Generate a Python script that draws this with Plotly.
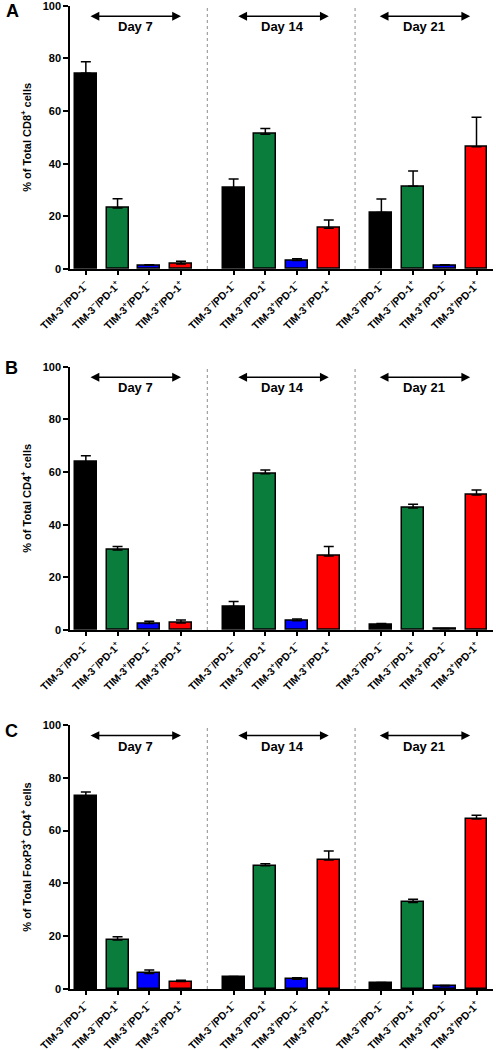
import plotly.graph_objects as go

# ---- data ----
days = ["Day 7", "Day 14", "Day 21"]
subsets = ["TIM-3<sup>\u2212</sup>/PD-1<sup>\u2212</sup>",
           "TIM-3<sup>\u2212</sup>/PD-1<sup>+</sup>",
           "TIM-3<sup>+</sup>/PD-1<sup>\u2212</sup>",
           "TIM-3<sup>+</sup>/PD-1<sup>+</sup>"]
subset_colors = ["#000000", "#0a7d3c", "#0000ff", "#ff0000"]

cd8_mean = [74.3, 23.2, 1.4, 1.9,   30.9, 51.2, 3.2, 15.5,   21.5, 31.4, 1.4, 46.4]
cd8_err  = [4.4, 3.5, 0.2, 1.0,     3.3, 2.2, 0.7, 3.1,      5.1, 5.8, 0.2, 11.2]

cd4_mean = [63.9, 30.4, 2.5, 2.7,   8.9, 59.3, 3.5, 28.1,    2.2, 46.3, 0.5, 51.3]
cd4_err  = [2.3, 1.3, 0.8, 1.1,     1.9, 1.5, 0.7, 3.6,      0.3, 1.5, 0.1, 1.9]

foxp3_mean = [73.1, 18.6, 5.9, 2.8,  4.4, 46.7, 3.7, 48.9,   2.2, 32.8, 1.1, 64.4]
foxp3_err  = [1.5, 1.2, 1.3, 0.5,    0.3, 0.7, 0.6, 3.4,     0.3, 1.2, 0.2, 1.4]

panels = [
    ("A", "% of Total CD8<sup>+</sup> cells", cd8_mean, cd8_err),
    ("B", "% of Total CD4<sup>+</sup> cells", cd4_mean, cd4_err),
    ("C", "% of Total FoxP3<sup>+</sup> CD4<sup>+</sup> cells", foxp3_mean, foxp3_err),
]

# ---- layout geometry ----
W, H = 496, 1050
GROUP_STEP = 4.66
xpos = [g * GROUP_STEP + i for g in range(len(days)) for i in range(len(subsets))]
ticktext = [s for _ in days for s in subsets]
bar_colors = [c for _ in days for c in subset_colors]
separators = [3 + (GROUP_STEP - 3) / 2, GROUP_STEP + 3 + (GROUP_STEP - 3) / 2]
# (top px, bottom px) of each plotting area
panel_px = [(5.7, 269), (366.7, 630), (725, 989)]
letter_px = [(4, 11), (3, 368), (3, 731)]
x_dom = [70 / W, 493 / W]
FONT = "Arial, 'Liberation Sans', sans-serif"

fig = go.Figure()
annotations = []
shapes = []

for k, (letter, ytitle, mean, err) in enumerate(panels):
    sfx = "" if k == 0 else str(k + 1)
    xa, ya = "x" + sfx, "y" + sfx
    fig.add_trace(go.Bar(
        x=xpos, y=mean, width=0.69,
        marker=dict(color=bar_colors, line=dict(color="black", width=1.5)),
        error_y=dict(type="data", array=err, arrayminus=[0] * len(err),
                     symmetric=False, color="black", thickness=1.5, width=5),
        xaxis=xa, yaxis=ya, showlegend=False, hoverinfo="skip",
    ))
    top, bot = panel_px[k]
    fig.update_layout(**{
        "xaxis" + sfx: dict(
            domain=x_dom, anchor=ya, range=[-0.5, 12.84], automargin=False,
            tickmode="array", tickvals=xpos, ticktext=ticktext,
            tickangle=-45, ticks="outside", ticklen=4, tickwidth=1.5,
            tickcolor="black", showline=True, linecolor="black", linewidth=1.5,
            showgrid=False, zeroline=False, ticklabeloverflow="allow",
            tickfont=dict(family=FONT, size=10.5, color="black", weight="bold"),
        ),
        "yaxis" + sfx: dict(
            domain=[1 - bot / H, 1 - top / H], anchor=xa, range=[0, 100],
            automargin=False, ticklabeloverflow="allow",
            tickvals=[0, 20, 40, 60, 80, 100], ticks="outside", ticklen=5,
            tickwidth=1.5, tickcolor="black", showline=True, linecolor="black",
            linewidth=1.5, showgrid=False, zeroline=False,
            tickfont=dict(family=FONT, size=11, color="black", weight="bold"),
            title=dict(text=ytitle, standoff=9,
                       font=dict(family=FONT, size=11, color="black", weight="bold")),
        ),
    })
    # panel letter
    lx, ly = letter_px[k]
    annotations.append(dict(text="<b>" + letter + "</b>", xref="paper", yref="paper",
                            x=lx / W, y=1 - ly / H, xanchor="left", yanchor="middle",
                            showarrow=False, font=dict(family=FONT, size=18, color="black")))
    # separators
    for sx in separators:
        shapes.append(dict(type="line", xref=xa, yref=ya, x0=sx, x1=sx, y0=0, y1=100,
                           line=dict(color="#8c8c8c", width=1, dash="dot")))
    # day arrows and labels
    arrow_span = [(0.1, 3.0), (0.1, 3.0), (-0.1, 2.8)]
    for g, day in enumerate(days):
        a0, a1 = arrow_span[g]
        x0 = g * GROUP_STEP + a0
        x1 = g * GROUP_STEP + a1
        annotations.append(dict(x=x1, y=96, ax=x0, ay=96, xref=xa, yref=ya,
                                axref=xa, ayref=ya, text="", showarrow=True,
                                arrowhead=2, startarrowhead=2, arrowside="end+start",
                                arrowsize=1.1, startarrowsize=1.1, arrowwidth=1.6,
                                arrowcolor="black"))
        annotations.append(dict(x=(x0 + x1) / 2, y=92, xref=xa, yref=ya,
                                text="<b>" + day + "</b>", showarrow=False,
                                font=dict(family=FONT, size=13, color="black")))

fig.update_layout(
    width=W, height=H, margin=dict(l=0, r=0, t=0, b=0),
    paper_bgcolor="white", plot_bgcolor="white",
    annotations=annotations, shapes=shapes, bargap=0,
)

fig.write_html("out.html", config={"displayModeBar": False},
               post_script="document.body.style.margin='0px';"
                           "document.body.style.overflow='hidden';")
